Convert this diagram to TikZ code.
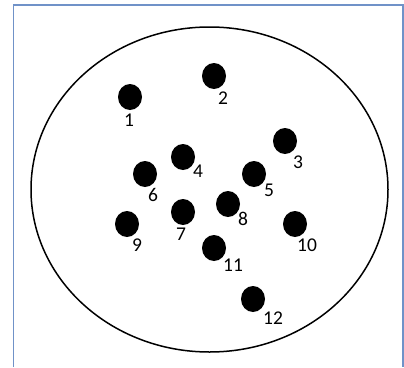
\documentclass[tikz,border=0pt]{standalone}
\usepackage{fontspec}
\setmainfont{Carlito}
\usetikzlibrary{shapes.geometric}
\definecolor{framblue}{RGB}{112,146,200}
\begin{document}
\begin{tikzpicture}[x=1pt,y=-1pt,
  dot/.style={ellipse,fill=black,minimum width=24pt,minimum height=26pt,inner sep=0pt},
  lbl/.style={font=\fontsize{19.5}{19.5}\selectfont,inner sep=0pt,text=black}]
\useasboundingbox (0,0) rectangle (404,367);
\draw[framblue,line width=1.6pt] (13.5,367) -- (13.5,4.8) -- (403,4.8) -- (403,367);
\node[draw,ellipse,line width=1.5pt,minimum width=357pt,minimum height=325pt,inner sep=0pt] (cell) at (209.5,189.5) {};
\foreach \n/\x/\y/\lx/\ly in {1/130/97/129/120,2/214/76/223/98,3/285/141/298/162,4/183/157/198/171,5/254/174/269/190,6/145/174/153/195,7/183/212/181/234,8/228/204/243/219,9/127/224/137/245,10/295/224/307/245,11/214/248/233/265,12/253/299/273/318}{
  \node[dot] (d\n) at (\x,\y) {};
  \node[lbl] (l\n) at (\lx,\ly) {\n};
}
\end{tikzpicture}
\end{document}
